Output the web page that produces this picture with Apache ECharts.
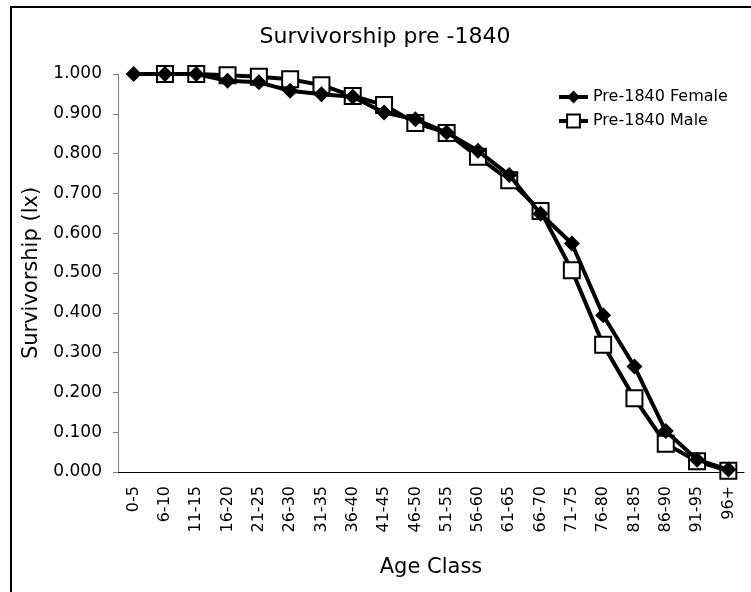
<!DOCTYPE html>
<html>
<head>
<meta charset="utf-8">
<script src="https://cdn.jsdelivr.net/npm/echarts@6/dist/echarts.min.js"></script>
<style>
html, body { margin: 0; padding: 0; background: #fff; }
#main { width: 751px; height: 592px; }
</style>
</head>
<body>
<div id="main"></div>
<script>
// age classes
var ageClass = ['0-5', '6-10', '11-15', '16-20', '21-25', '26-30', '31-35', '36-40', '41-45', '46-50',
	'51-55', '56-60', '61-65', '66-70', '71-75', '76-80', '81-85', '86-90', '91-95', '96+'];
// survivorship lx
var female = [1.000, 1.000, 1.000, 0.983, 0.979, 0.958, 0.949, 0.943, 0.903, 0.886,
	0.853, 0.807, 0.746, 0.649, 0.574, 0.394, 0.265, 0.103, 0.031, 0.006];
var male = [null, 1.000, 1.000, 0.997, 0.993, 0.987, 0.972, 0.945, 0.922, 0.877,
	0.852, 0.792, 0.733, 0.656, 0.507, 0.320, 0.185, 0.071, 0.027, 0.003];
var yTicks = [0, 0.1, 0.2, 0.3, 0.4, 0.5, 0.6, 0.7, 0.8, 0.9, 1.0];

var font = 'DejaVu Sans';
var myChart = echarts.init(document.getElementById('main'));
var option = {
	backgroundColor: '#fff',
	animation: false,
	textStyle: { fontFamily: font, color: '#000' },
	graphic: [{
		type: 'rect',
		shape: { x: 11, y: 7, width: 800, height: 700 },
		style: { fill: 'none', stroke: '#000', lineWidth: 2 },
		z: -1
	}, {
		type: 'text',
		x: 385, y: 37,
		style: { text: 'Survivorship pre -1840', font: '22px "DejaVu Sans"', fill: '#000', align: 'center', verticalAlign: 'middle' }
	}],
	legend: {
		orient: 'vertical',
		left: 552, top: 84,
		itemWidth: 29, itemHeight: 16,
		itemGap: 8,
		data: ['Pre-1840 Female', 'Pre-1840 Male'],
		lineStyle: { width: 4 },
		textStyle: { fontFamily: font, fontSize: 16, color: '#000' }
	},
	grid: { left: 118, top: 74, right: 7, bottom: 120 },
	xAxis: {
		type: 'category',
		data: ageClass,
		boundaryGap: true,
		name: 'Age Class',
		nameLocation: 'middle',
		nameGap: 85,
		nameTextStyle: { fontFamily: font, fontSize: 21, color: '#000' },
		axisLine: { lineStyle: { color: '#000', width: 1 } },
		axisTick: { length: 5, interval: 0, lineStyle: { color: '#000' } },
		axisLabel: { rotate: 90, interval: 0, margin: 14, fontSize: 16, color: '#000', fontFamily: font },
		splitLine: { show: false }
	},
	yAxis: {
		type: 'value',
		min: yTicks[0], max: yTicks[yTicks.length - 1], interval: 0.1,
		name: 'Survivorship (lx)',
		nameLocation: 'middle',
		nameGap: 74,
		nameTextStyle: { fontFamily: font, fontSize: 21, color: '#000' },
		axisLine: { show: true, lineStyle: { color: '#808080', width: 1 } },
		axisTick: { show: true, length: 5, lineStyle: { color: '#808080' } },
		axisLabel: {
			margin: 16, fontSize: 17, color: '#000', fontFamily: font,
			formatter: function (v) { return v.toFixed(3); }
		},
		splitLine: { show: false }
	},
	series: [{
		name: 'Pre-1840 Male',
		type: 'line',
		data: male,
		z: 2,
		symbol: 'rect',
		symbolSize: 16,
		lineStyle: { color: '#000', width: 4 },
		itemStyle: { color: '#fff', borderColor: '#000', borderWidth: 2 }
	}, {
		name: 'Pre-1840 Female',
		type: 'line',
		data: female,
		z: 3,
		symbol: 'diamond',
		symbolSize: 16,
		lineStyle: { color: '#000', width: 4 },
		itemStyle: { color: '#000' }
	}]
};
myChart.setOption(option);
</script>
</body>
</html>
